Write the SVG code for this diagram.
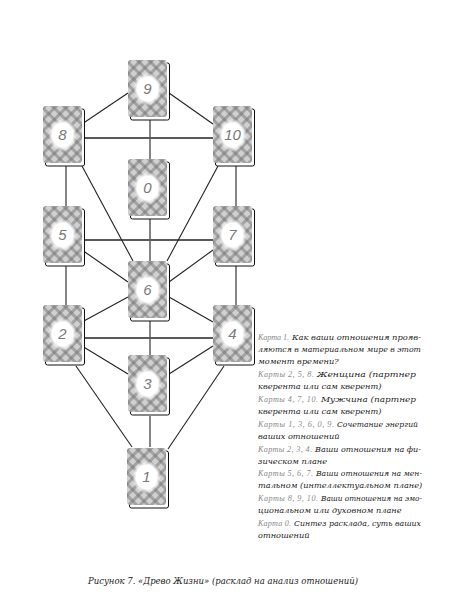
<svg xmlns="http://www.w3.org/2000/svg" xmlns:xlink="http://www.w3.org/1999/xlink" width="476" height="612" viewBox="0 0 476 612">
<style>
.ln{stroke:#222;stroke-width:1.1;fill:none}
.hl{stroke:#5a5a5a;stroke-width:1.8;fill:none}
.num{font-family:"Liberation Sans",sans-serif;font-style:italic;font-size:15px;fill:#7a7a7a;text-anchor:middle}
.tx{font-family:"DejaVu Serif",serif;font-style:italic;font-size:8.2px;fill:#222}
.lb{font-family:"Liberation Serif",serif;font-style:italic;font-size:8.2px;fill:#8a8a8a}
.cap{font-family:"DejaVu Serif",serif;font-style:italic;font-size:9.8px;fill:#222}
</style>
<defs>
<pattern id="plaid" width="8" height="8" patternUnits="userSpaceOnUse" patternTransform="rotate(45)">
<rect width="8" height="8" fill="#d0d0d0"/>
<rect width="8" height="3" fill="#a2a2a2"/>
<rect width="3" height="8" fill="#a2a2a2"/>
<rect width="3" height="3" fill="#8a8a8a"/>
</pattern>
<radialGradient id="glow">
<stop offset="0" stop-color="#fff"/>
<stop offset="0.72" stop-color="#fff"/>
<stop offset="1" stop-color="#fff" stop-opacity="0"/>
</radialGradient>
<g id="card">
<rect x="2.5" y="3" width="39" height="57" rx="2" fill="#fff" stroke="#111" stroke-width="1"/>
<rect x="0" y="0" width="39" height="57" rx="3" fill="url(#plaid)"/>
<ellipse cx="19.5" cy="29" rx="14.5" ry="16.5" fill="url(#glow)"/>
</g>
</defs>
<rect width="476" height="612" fill="#fff"/>
<g id="connectors">
<line class="ln" x1="150" y1="118" x2="150" y2="159"/>
<line class="hl" x1="82" y1="138" x2="213" y2="138"/>
<line class="ln" x1="66" y1="166" x2="66" y2="206"/>
<line class="ln" x1="236" y1="166" x2="236" y2="206"/>
<line class="ln" x1="150" y1="219" x2="150" y2="261"/>
<line class="hl" x1="82" y1="240" x2="213" y2="240"/>
<line class="ln" x1="66" y1="266" x2="66" y2="305"/>
<line class="ln" x1="236" y1="266" x2="236" y2="305"/>
<line class="ln" x1="150" y1="320" x2="150" y2="355"/>
<line class="hl" x1="82" y1="338" x2="213" y2="338"/>
<line class="ln" x1="150" y1="416" x2="150" y2="447"/>
<line class="ln" x1="128" y1="93" x2="82" y2="124"/>
<line class="ln" x1="169" y1="93" x2="213" y2="124"/>
<line class="ln" x1="82" y1="166" x2="133" y2="261"/>
<line class="ln" x1="218" y1="166" x2="167" y2="261"/>
<line class="ln" x1="82" y1="250" x2="128" y2="282"/>
<line class="ln" x1="213" y1="250" x2="169" y2="282"/>
<line class="ln" x1="128" y1="297" x2="82" y2="322"/>
<line class="ln" x1="169" y1="297" x2="213" y2="322"/>
<line class="ln" x1="82" y1="346" x2="128" y2="374"/>
<line class="ln" x1="213" y1="346" x2="169" y2="374"/>
<line class="ln" x1="76" y1="366" x2="132" y2="447"/>
<line class="ln" x1="224" y1="366" x2="168" y2="449"/>
</g>
<g id="card-9" transform="translate(128,60)"><use xlink:href="#card"/><text class="num" x="19.5" y="34">9</text></g>
<g id="card-8" transform="translate(43,106)"><use xlink:href="#card"/><text class="num" x="19.5" y="34">8</text></g>
<g id="card-10" transform="translate(213,106)"><use xlink:href="#card"/><text class="num" x="19.5" y="34">10</text></g>
<g id="card-0" transform="translate(128,159)"><use xlink:href="#card"/><text class="num" x="19.5" y="34">0</text></g>
<g id="card-5" transform="translate(43,206)"><use xlink:href="#card"/><text class="num" x="19.5" y="34">5</text></g>
<g id="card-7" transform="translate(213,206)"><use xlink:href="#card"/><text class="num" x="19.5" y="34">7</text></g>
<g id="card-6" transform="translate(128,261)"><use xlink:href="#card"/><text class="num" x="19.5" y="34">6</text></g>
<g id="card-2" transform="translate(43,305)"><use xlink:href="#card"/><text class="num" x="19.5" y="34">2</text></g>
<g id="card-4" transform="translate(213,305)"><use xlink:href="#card"/><text class="num" x="19.5" y="34">4</text></g>
<g id="card-3" transform="translate(128,355)"><use xlink:href="#card"/><text class="num" x="19.5" y="34">3</text></g>
<g id="card-1" transform="translate(127,448)"><use xlink:href="#card"/><text class="num" x="19.5" y="34">1</text></g>
<g id="legend">
<text class="lb" x="258" y="340" textLength="31" lengthAdjust="spacing">Карта 1.</text>
<text class="tx" x="292" y="340" textLength="129" lengthAdjust="spacingAndGlyphs">Как ваши отношения прояв-</text>
<text class="tx" x="258" y="352" textLength="163" lengthAdjust="spacingAndGlyphs">ляются в материальном мире в этот</text>
<text class="tx" x="258" y="364">момент времени?</text>
<text class="lb" x="258" y="377" textLength="56" lengthAdjust="spacing">Карты 2, 5, 8.</text>
<text class="tx" x="317" y="377" textLength="99" lengthAdjust="spacingAndGlyphs">Женщина (партнер</text>
<text class="tx" x="258" y="389">кверента или сам кверент)</text>
<text class="lb" x="258" y="402" textLength="60" lengthAdjust="spacing">Карты 4, 7, 10.</text>
<text class="tx" x="321" y="402" textLength="95" lengthAdjust="spacingAndGlyphs">Мужчина (партнер</text>
<text class="tx" x="258" y="414">кверента или сам кверент)</text>
<text class="lb" x="258" y="427" textLength="76" lengthAdjust="spacing">Карты 1, 3, 6, 0, 9.</text>
<text class="tx" x="337" y="427" textLength="81" lengthAdjust="spacingAndGlyphs">Сочетание энергий</text>
<text class="tx" x="258" y="439">ваших отношений</text>
<text class="lb" x="258" y="452" textLength="54" lengthAdjust="spacing">Карты 2, 3, 4.</text>
<text class="tx" x="315" y="452" textLength="106" lengthAdjust="spacingAndGlyphs">Ваши отношения на фи-</text>
<text class="tx" x="258" y="464">зическом плане</text>
<text class="lb" x="258" y="476" textLength="55" lengthAdjust="spacing">Карты 5, 6, 7.</text>
<text class="tx" x="316" y="476" textLength="106" lengthAdjust="spacingAndGlyphs">Ваши отношения на мен-</text>
<text class="tx" x="258" y="488">тальном (интеллектуальном плане)</text>
<text class="lb" x="258" y="501" textLength="60" lengthAdjust="spacing">Карты 8, 9, 10.</text>
<text class="tx" x="321" y="501" textLength="101" lengthAdjust="spacingAndGlyphs">Ваши отношения на эмо-</text>
<text class="tx" x="258" y="513">циональном или духовном плане</text>
<text class="lb" x="258" y="526" textLength="33" lengthAdjust="spacing">Карта 0.</text>
<text class="tx" x="294" y="526" textLength="127" lengthAdjust="spacingAndGlyphs">Синтез расклада, суть ваших</text>
<text class="tx" x="258" y="538">отношений</text>
</g>
<text class="cap" x="88" y="584" textLength="270" lengthAdjust="spacingAndGlyphs">Рисунок 7. «Древо Жизни» (расклад на анализ отношений)</text>
</svg>
